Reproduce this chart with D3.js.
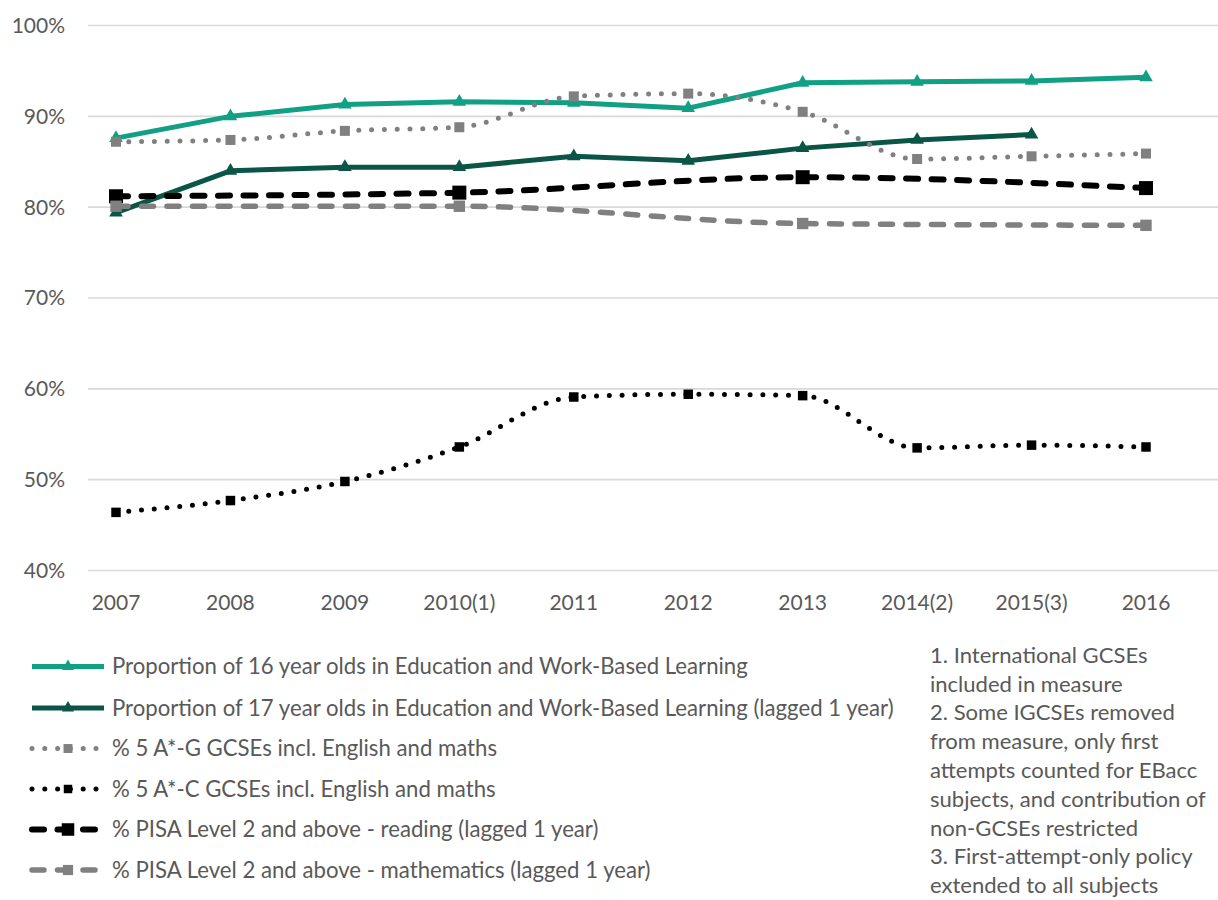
<!DOCTYPE html>
<html><head><meta charset="utf-8">
<script src="https://cdn.jsdelivr.net/npm/d3@7"></script>
<style>body{margin:0;background:#fff;} svg{display:block;}</style>
</head><body><svg id="c" width="1218" height="900"></svg>
<script>
// ---- data ----
const categories = ["2007","2008","2009","2010(1)","2011","2012","2013","2014(2)","2015(3)","2016"];
const yTicks = [40,50,60,70,80,90,100];
const edu16 = [87.6,90.0,91.3,91.6,91.5,90.9,93.7,93.8,93.9,94.3];
const edu17 = [79.4,84.0,84.4,84.4,85.6,85.1,86.5,87.4,88.0,null];
const gcseAG = [87.2,87.4,88.4,88.8,92.2,92.5,90.5,85.3,85.6,85.9];
const gcseAC = [46.4,47.7,49.8,53.6,59.1,59.4,59.25,53.5,53.8,53.6];
const pisaRead = [81.2,null,null,81.6,null,null,83.3,null,null,82.1];
const pisaMath = [80.1,null,null,80.1,null,null,78.2,null,null,78.0];
const seriesNames = [
  "Proportion of 16 year olds in Education and Work-Based Learning",
  "Proportion of 17 year olds in Education and Work-Based Learning (lagged 1 year)",
  "% 5 A*-G GCSEs incl. English and maths",
  "% 5 A*-C GCSEs incl. English and maths",
  "% PISA Level 2 and above - reading (lagged 1 year)",
  "% PISA Level 2 and above - mathematics (lagged 1 year)"
];
const noteLines = [
  "1. International GCSEs",
  "included in measure",
  "2. Some  IGCSEs removed",
  "from measure, only first",
  "attempts  counted for EBacc",
  "subjects, and contribution of",
  "non-GCSEs restricted",
  "3. First-attempt-only policy",
  "extended to all subjects"
];

// ---- styles ----
const styles = [
  {values: edu16, color:"#12a085", width:5, dash:null, cap:"butt", curve:d3.curveLinear, sym:d3.symbolTriangle, size:80},
  {values: edu17, color:"#0a5546", width:5, dash:null, cap:"butt", curve:d3.curveLinear, sym:d3.symbolTriangle, size:80},
  {values: gcseAG, color:"#808080", width:5, dash:"0 12.8", cap:"round", curve:d3.curveMonotoneX, sym:d3.symbolSquare, size:100},
  {values: gcseAC, color:"#000000", width:5, dash:"0 12.8", cap:"round", curve:d3.curveMonotoneX, sym:d3.symbolSquare, size:90},
  {values: pisaRead, color:"#000000", width:6, dash:"12 13.5", cap:"round", curve:d3.curveMonotoneX, sym:d3.symbolSquare, size:196},
  {values: pisaMath, color:"#808080", width:5.5, dash:"12 13.5", cap:"round", curve:d3.curveMonotoneX, sym:d3.symbolSquare, size:130}
];

const svg = d3.select("#c");
const font = "Lato, 'Open Sans', sans-serif";
const textColor = "#595959";

const x = d3.scalePoint().domain(categories).range([116, 1146]);
const y = d3.scaleLinear().domain([40,100]).range([570.5, 25.5]);

// gridlines
svg.append("g").selectAll("line").data(yTicks).join("line")
  .attr("x1", 88).attr("x2", 1218)
  .attr("y1", d=>y(d)).attr("y2", d=>y(d))
  .attr("stroke", "#d9d9d9").attr("stroke-width", 1.6);

// y labels
svg.append("g").selectAll("text").data(yTicks).join("text")
  .attr("x", 65).attr("y", d=>y(d)).attr("dy","0.35em")
  .attr("text-anchor","end").attr("font-family",font).attr("font-size",21)
  .attr("fill",textColor).text(d=>d+"%");

// x labels
svg.append("g").selectAll("text").data(categories).join("text")
  .attr("x", d=>x(d)).attr("y", 603).attr("dy","0.35em")
  .attr("text-anchor","middle").attr("font-family",font).attr("font-size",21)
  .attr("fill",textColor).text(d=>d);

// series
styles.forEach((s, i) => {
  const pts = categories.map((c, j) => ({c, v: s.values[j]})).filter(p => p.v != null);
  const line = d3.line().x(p=>x(p.c)).y(p=>y(p.v)).curve(s.curve);
  const g = svg.append("g");
  g.append("path").attr("d", line(pts)).attr("fill","none")
    .attr("stroke", s.color).attr("stroke-width", s.width)
    .attr("stroke-linecap", s.cap).attr("stroke-linejoin","round")
    .attr("stroke-dasharray", s.dash);
  g.selectAll("path.m").data(pts).join("path").attr("class","m")
    .attr("d", d3.symbol().type(s.sym).size(s.size))
    .attr("transform", p=>`translate(${x(p.c)},${y(p.v)})`)
    .attr("fill", s.color);
});

// legend
const legendY = [666.5, 708, 748.5, 789, 829.5, 870];
const lg = svg.append("g");
const probe = lg.append("text").attr("font-family",font).attr("font-size",20).text(seriesNames[0]);
const w0 = probe.node().getComputedTextLength();
probe.remove();
const legendFont = 20 * 636 / w0;
styles.forEach((s, i) => {
  const ly = legendY[i];
  const row = lg.append("g");
  row.append("line").attr("x1", 32).attr("x2", 104).attr("y1", ly).attr("y2", ly)
    .attr("stroke", s.color).attr("stroke-width", s.width)
    .attr("stroke-linecap", s.cap).attr("stroke-dasharray", s.dash);
  row.append("path").attr("d", d3.symbol().type(s.sym).size(s.size*0.8))
    .attr("transform", `translate(68,${ly})`).attr("fill", s.color);
  row.append("text").attr("x", 112).attr("y", ly).attr("dy","0.35em")
    .attr("font-family",font).attr("font-size",legendFont)
    .attr("fill",textColor).text(seriesNames[i]);
});

// notes
const ng = svg.append("g");
const probe2 = ng.append("text").attr("font-family",font).attr("font-size",20).text(noteLines[5]);
const w1 = probe2.node().getComputedTextLength();
probe2.remove();
const noteFont = 20 * 276 / w1;
ng.selectAll("text").data(noteLines).join("text")
  .attr("x", 930).attr("y", (d,i)=>655 + i*28.8).attr("dy","0.35em")
  .attr("font-family",font).attr("font-size",noteFont)
  .attr("fill",textColor).text(d=>d);
</script>
</body></html>
